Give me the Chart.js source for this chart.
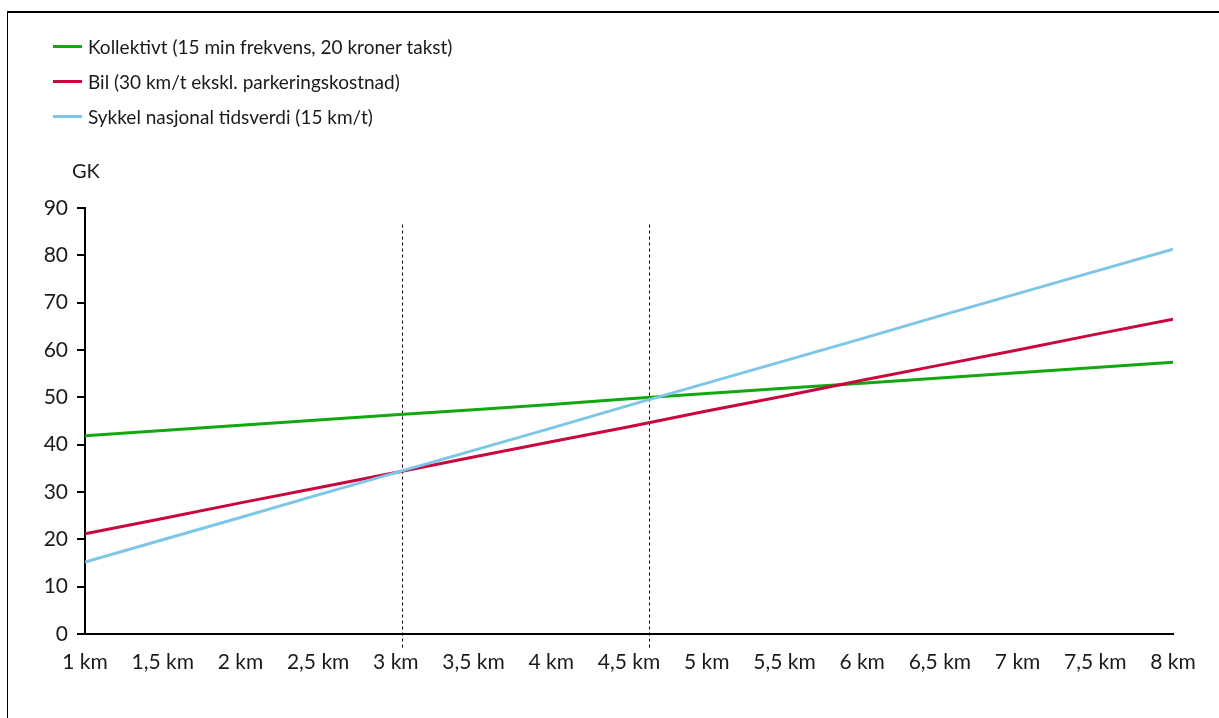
<!DOCTYPE html>
<html>
<head>
<meta charset="utf-8">
<script src="https://cdn.jsdelivr.net/npm/chart.js@4"></script>
<style>
  html,body{margin:0;padding:0;background:#fff;}
  #wrap{position:relative;width:1219px;height:718px;overflow:hidden;}
  #frame{position:absolute;left:7px;top:11px;right:-10px;bottom:-10px;border-left:1px solid #000;border-top:2px solid #000;pointer-events:none;}
  #legend{position:absolute;left:53px;top:29px;font-family:Lato,sans-serif;font-size:19px;color:#1a1a1a;}
  #legend .row{display:flex;align-items:center;height:35px;}
  #legend .swatch{width:29px;height:3px;margin-right:6px;}
</style>
</head>
<body>
<div id="wrap">
  <canvas id="c" width="1219" height="718"></canvas>
  <div id="legend"></div>
  <div id="frame"></div>
</div>
<script>
// distance (km) along the x axis
const km = [1, 1.5, 2, 2.5, 3, 3.5, 4, 4.5, 5, 5.5, 6, 6.5, 7, 7.5, 8];
// GK values
const kollektivt = [41.9, 43.0, 44.1, 45.2, 46.3, 47.4, 48.5, 49.7, 50.8, 51.9, 53.0, 54.1, 55.2, 56.3, 57.4];
const bil        = [21.2, 24.4, 27.7, 30.9, 34.1, 37.4, 40.6, 43.8, 47.1, 50.3, 53.6, 56.8, 60.0, 63.3, 66.5];
const sykkel     = [15.2, 19.9, 24.6, 29.4, 34.1, 38.8, 43.5, 48.3, 53.0, 57.7, 62.4, 67.2, 71.9, 76.6, 81.3];
const seriesLabels = [
  'Kollektivt (15 min frekvens, 20 kroner takst)',
  'Bil (30 km/t ekskl. parkeringskostnad)',
  'Sykkel nasjonal tidsverdi (15 km/t)'
];
// dashed markers at the crossing points
const markerKm = [3.043, 4.632];
const markerSpan = [86.5, -3.4];
const yTicks = [0, 10, 20, 30, 40, 50, 60, 70, 80, 90];
const yTitle = 'GK';

(function(){
  'use strict';
  const FONT = 'Lato, sans-serif';
  const pts = arr => arr.map((v,i)=>({x:km[i], y:v}));
  const kmLabel = v => String(v).replace('.', ',') + ' km';

  const line = (label, data, color, order) => ({
    label, data: pts(data), borderColor: color, backgroundColor: color,
    borderWidth: 3, pointRadius: 0, tension: 0, order, inLegend: true
  });
  const marker = x => ({
    label: '', data: markerSpan.map(y=>({x, y})), borderColor: '#000',
    borderWidth: 1, borderDash: [3,3], pointRadius: 0, clip: false, order: 9, inLegend: false
  });

  const yTitlePlugin = {
    id: 'yTitle',
    afterDraw(chart){
      const {ctx, chartArea} = chart;
      ctx.save();
      ctx.font = '20px ' + FONT;
      ctx.fillStyle = '#1a1a1a';
      ctx.textAlign = 'left';
      ctx.textBaseline = 'middle';
      ctx.fillText(yTitle, chartArea.left - 13, chartArea.top - 36);
      ctx.restore();
    }
  };

  const chart = new Chart(document.getElementById('c'), {
    type: 'line',
    data: {
      datasets: [
        line(seriesLabels[0], kollektivt, '#12a812', 3),
        line(seriesLabels[1], bil, '#c8073f', 2),
        line(seriesLabels[2], sykkel, '#7ec6e6', 1),
        ...markerKm.map(marker)
      ]
    },
    options: {
      responsive: false, animation: false, events: [],
      layout: { padding: { left: 15, right: 46, top: 208, bottom: 40 } },
      plugins: { legend: { display: false }, tooltip: { enabled: false } },
      scales: {
        x: {
          type: 'linear', min: 1, max: 8,
          afterBuildTicks: s => { s.ticks = km.map(v=>({value:v})); },
          afterFit: s => { s.height = 44; },
          grid: { display: false, drawTicks: false },
          border: { display: true, color: '#000', width: 2 },
          ticks: { callback: kmLabel, autoSkip: false, maxRotation: 0, padding: 16,
                   color: '#1a1a1a', font: { family: FONT, size: 21 } }
        },
        y: {
          min: 0, max: 90,
          afterBuildTicks: s => { s.ticks = yTicks.map(v=>({value:v})); },
          afterFit: s => { s.width = 70; },
          grid: { drawOnChartArea: false, drawTicks: true, tickLength: 8, color: '#000', lineWidth: 2 },
          border: { display: true, color: '#000', width: 2 },
          ticks: { padding: 9, color: '#1a1a1a', font: { family: FONT, size: 21 } }
        }
      }
    },
    plugins: [yTitlePlugin]
  });

  // legend as html, built from the chart's datasets
  const lg = document.getElementById('legend');
  chart.data.datasets.filter(d=>d.inLegend).forEach(d=>{
    const row = document.createElement('div');
    row.className = 'row';
    row.innerHTML = `<span class="swatch" style="background:${d.borderColor}"></span><span>${d.label}</span>`;
    lg.appendChild(row);
  });
})();
</script>
</body>
</html>
